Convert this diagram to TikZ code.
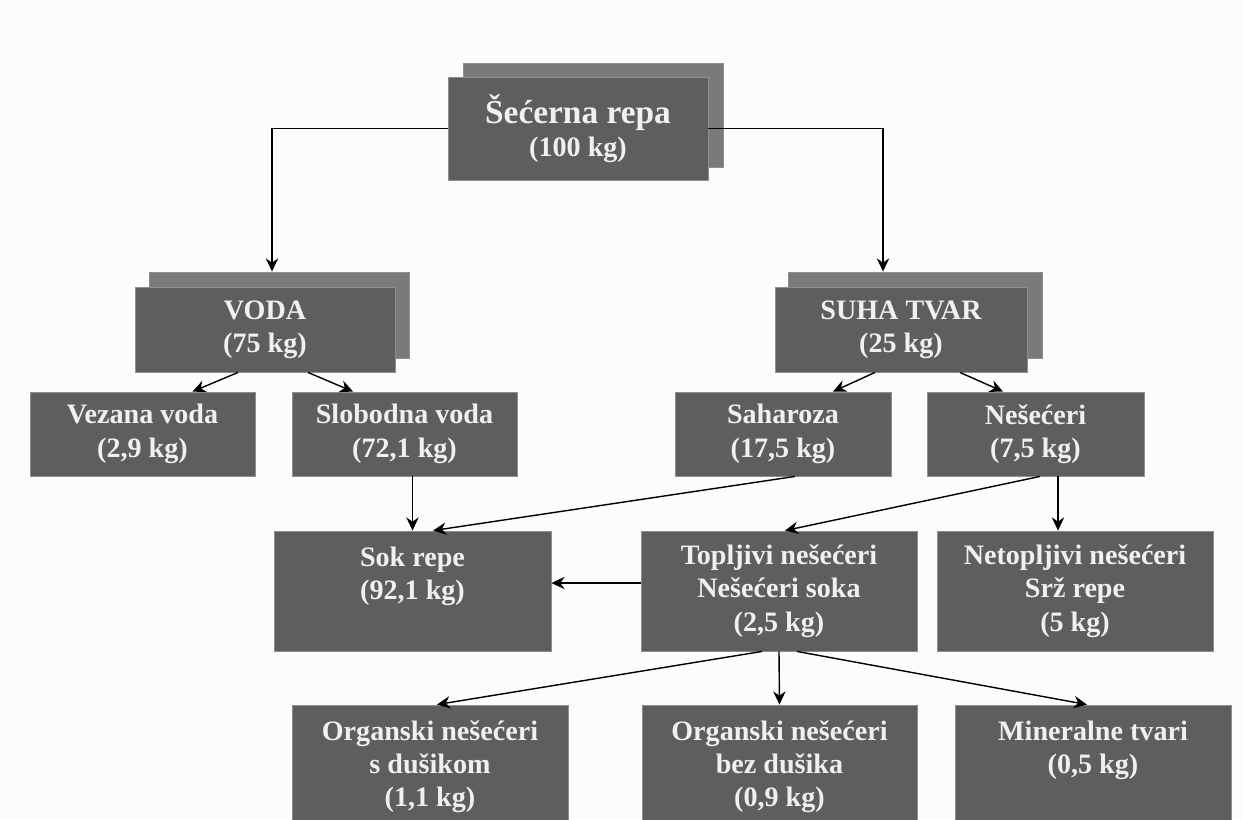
\documentclass[tikz,border=0pt]{standalone}
\usepackage{fontspec}
\setmainfont{Liberation Serif}
\usetikzlibrary{arrows.meta}
\definecolor{boxgray}{HTML}{5E5E5E}
\definecolor{backgray}{HTML}{7A7A7A}
\definecolor{edgegray}{HTML}{8E8E8E}
\definecolor{txtgray}{HTML}{F0F0F0}
\definecolor{paper}{HTML}{FCFCFC}
\newcommand{\toptext}[2]{\parbox[c][#1][t]{5.4cm}{\centering\rule{0pt}{20pt}#2}}

\begin{document}
\begin{tikzpicture}[
		x=0.02cm, y=-0.02cm,
		thin,
		>={Stealth[length=7.5pt,width=7pt]},
		mass/.style={rectangle, fill=boxgray, draw=edgegray, line width=0.5pt, text=txtgray,
			font=\fontsize{16}{19}\selectfont\bfseries, align=center, inner sep=0pt},
		layer/.style={rectangle, fill=backgray, draw=edgegray, line width=0.5pt, inner sep=0pt},
		flow/.style={->, line width=0.8pt, black},
	]
	\clip (0,0) rectangle (1242,819);
	\fill[paper] (0,0) rectangle (1242,819);

	% shadow layers
	\node[layer, minimum width=5.2cm, minimum height=2.08cm] (repaback) at (593,115) {};
	\node[layer, minimum width=5.2cm, minimum height=1.72cm] (vodaback) at (279,315) {};
	\node[layer, minimum width=5.08cm, minimum height=1.72cm] (suhaback) at (915,315) {};

	% masses
	\begin{scope}[every node/.style={mass}]
		\node[minimum width=5.2cm, minimum height=2.06cm] (repa) at (578,128.5)
			{{\fontsize{19}{22}\selectfont Šećerna repa}\\(100 kg)};
		\node[minimum width=5.2cm, minimum height=1.7cm] (voda) at (265,329.5) {VODA\\(75 kg)};
		\node[minimum width=5.04cm, minimum height=1.7cm] (suha) at (901,329.5) {SUHA TVAR\\(25 kg)};

		\node[minimum width=4.5cm, minimum height=1.68cm] (vezana) at (142.5,434) {Vezana voda\\(2,9 kg)};
		\node[minimum width=4.5cm, minimum height=1.68cm] (slobodna) at (404.5,434) {Slobodna voda\\(72,1 kg)};
		\node[minimum width=4.32cm, minimum height=1.68cm] (saharoza) at (783,434) {Saharoza\\(17,5 kg)};
		\node[minimum width=4.34cm, minimum height=1.68cm] (nesec) at (1035.5,434) {Nešećeri\\(7,5 kg)};

		\node[minimum width=5.54cm, minimum height=2.4cm] (sok) at (412.5,591) {\toptext{2.4cm}{Sok repe\\(92,1 kg)}};
		\node[minimum width=5.52cm, minimum height=2.4cm] (topljivi) at (779,591)
			{Topljivi nešećeri\\Nešećeri soka\\(2,5 kg)};
		\node[minimum width=5.52cm, minimum height=2.4cm] (netopljivi) at (1075,591)
			{Netopljivi nešećeri\\Srž repe\\(5 kg)};

		\node[minimum width=5.52cm, minimum height=2.6cm] (org1) at (430,770)
			{\toptext{2.6cm}{Organski nešećeri\\s dušikom\\(1,1 kg)}};
		\node[minimum width=5.5cm, minimum height=2.6cm] (org2) at (779.5,770)
			{\toptext{2.6cm}{Organski nešećeri\\bez dušika\\(0,9 kg)}};
		\node[minimum width=5.52cm, minimum height=2.6cm] (mineral) at (1093,770)
			{\toptext{2.6cm}{Mineralne tvari\\(0,5 kg)}};
	\end{scope}

	% flows
	\draw[flow] (repa.west) -| ([xshift=-0.14cm]vodaback.north);
	\draw[flow] (repa.east) -| ([xshift=-0.64cm]suhaback.north);
	\draw[flow] ([xshift=-0.54cm]voda.south) -- ([xshift=1cm]vezana.north);
	\draw[flow] ([xshift=0.86cm]voda.south) -- ([xshift=-1.03cm]slobodna.north);
	\draw[flow] ([xshift=-0.52cm]suha.south) -- ([xshift=1cm]saharoza.north);
	\draw[flow] ([xshift=1.18cm]suha.south) -- ([xshift=-0.65cm]nesec.north);
	\draw[flow] (sok.north |- slobodna.south) -- (sok.north);
	\draw[flow] ([xshift=0.24cm]saharoza.south) -- ([xshift=0.41cm]sok.north);
	\draw[flow] ([xshift=0.09cm]nesec.south) -- ([xshift=0.12cm]topljivi.north);
	\draw[flow] ([xshift=0.45cm]nesec.south) -- ([xshift=0.45cm]nesec.south |- netopljivi.north);
	\draw[flow] ([yshift=0.16cm]topljivi.west) -- ([yshift=0.16cm]sok.east);
	\draw[flow] ([xshift=-0.34cm]topljivi.south) -- ([xshift=0.14cm]org1.north);
	\draw[flow] (topljivi.south) -- (org2.north);
	\draw[flow] ([xshift=0.36cm]topljivi.south) -- ([xshift=-0.12cm]mineral.north);
\end{tikzpicture}
\end{document}
